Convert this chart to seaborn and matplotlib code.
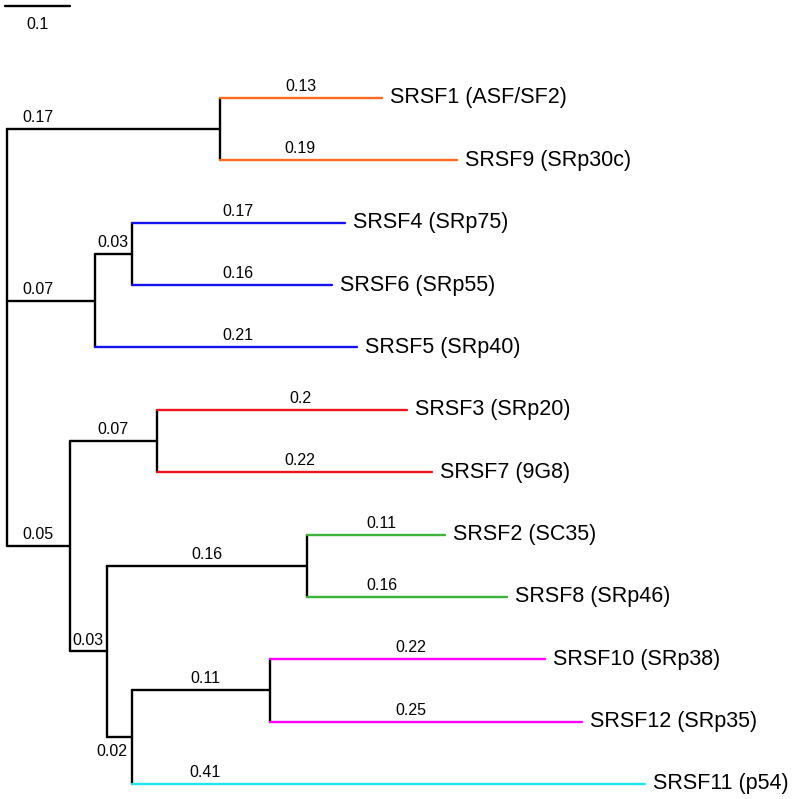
import numpy as np
import pandas as pd
import matplotlib
matplotlib.use("Agg")
import matplotlib.pyplot as plt
import seaborn as sns

# ---- data -------------------------------------------------------------
parents = ["root", "A", "A",
           "root", "B", "B1", "B1", "B",
           "root", "C", "C1", "C1", "C", "D", "D1", "D1", "D", "E", "E1", "E1", "E"]
children = ["A", "SRSF1", "SRSF9",
            "B", "B1", "SRSF4", "SRSF6", "SRSF5",
            "C", "C1", "SRSF3", "SRSF7", "D", "D1", "SRSF2", "SRSF8", "E", "E1", "SRSF10", "SRSF12", "SRSF11"]
lengths = [0.17, 0.13, 0.19,
           0.07, 0.03, 0.17, 0.16, 0.21,
           0.05, 0.07, 0.2, 0.22, 0.03, 0.16, 0.11, 0.16, 0.02, 0.11, 0.22, 0.25, 0.41]
length_labels = ["0.17", "0.13", "0.19",
                 "0.07", "0.03", "0.17", "0.16", "0.21",
                 "0.05", "0.07", "0.2", "0.22", "0.03", "0.16", "0.11", "0.16", "0.02", "0.11", "0.22", "0.25", "0.41"]

leaf_order = ["SRSF1", "SRSF9", "SRSF4", "SRSF6", "SRSF5", "SRSF3", "SRSF7",
              "SRSF2", "SRSF8", "SRSF10", "SRSF12", "SRSF11"]
leaf_names = ["SRSF1 (ASF/SF2)", "SRSF9 (SRp30c)", "SRSF4 (SRp75)", "SRSF6 (SRp55)",
              "SRSF5 (SRp40)", "SRSF3 (SRp20)", "SRSF7 (9G8)", "SRSF2 (SC35)",
              "SRSF8 (SRp46)", "SRSF10 (SRp38)", "SRSF12 (SRp35)", "SRSF11 (p54)"]
leaf_clades = ["orange", "orange", "blue", "blue", "blue", "red", "red",
               "green", "green", "magenta", "magenta", "cyan"]

palette = {"black": "#000000", "orange": "#FF6A1F", "blue": "#1414F0",
           "red": "#F0141E", "green": "#3CB43C", "magenta": "#FF00FF",
           "cyan": "#1EE6F0"}

# where along each branch its length label sits (style, fraction of branch)
label_frac = [0.146, 0.5, 0.339,
              0.354, 0.5, 0.5, 0.53, 0.547,
              0.5, 0.5, 0.572, 0.52, 0.5, 0.5, 0.538, 0.375, None, 0.53, 0.515, 0.453, 0.142]

scale_value = 0.1
scale_label = "0.1"

# ---- layout -----------------------------------------------------------
kids = {}
for p, c, l in zip(parents, children, lengths):
    kids.setdefault(p, []).append((c, l))

xpos = {"root": 0.0}
def set_x(n):
    for c, l in kids.get(n, []):
        xpos[c] = xpos[n] + l
        set_x(c)
set_x("root")

ypos = {name: i for i, name in enumerate(leaf_order)}
def set_y(n):
    if n in ypos:
        return ypos[n]
    ys = [set_y(c) for c, _ in kids[n]]
    ypos[n] = (ys[0] + ys[-1]) / 2
    return ypos[n]
set_y("root")

clade_of = dict(zip(leaf_order, leaf_clades))

rows = []
seg = 0
for p, c in zip(parents, children):
    col = clade_of.get(c, "black")
    rows += [(seg, xpos[p], ypos[c], col), (seg, xpos[c], ypos[c], col)]
    seg += 1
for n, ch in kids.items():
    ys = [ypos[c] for c, _ in ch]
    rows += [(seg, xpos[n], min(ys), "black"), (seg, xpos[n], max(ys), "black")]
    seg += 1
df = pd.DataFrame(rows, columns=["seg", "x", "y", "clade"])

# ---- draw -------------------------------------------------------------
sns.set_theme(style="white")
plt.rcParams['font.family'] = ['Liberation Sans', 'DejaVu Sans']
plt.rcParams['text.color'] = 'black'

W, H = 800, 799
fig = plt.figure(figsize=(W / 100, H / 100), dpi=100)
ax = fig.add_axes([0, 0, 1, 1])

px_per_unit = 1250.0
root_px = 7.0
leaf_top_px = 98.0
leaf_step_px = 62.36
ax.set_xlim(-root_px / px_per_unit, (W - root_px) / px_per_unit)
ax.set_ylim((H - leaf_top_px) / leaf_step_px, -leaf_top_px / leaf_step_px)

sns.lineplot(data=df, x="x", y="y", units="seg", estimator=None, hue="clade",
             palette=palette, sort=False, legend=False, linewidth=1.7, ax=ax)

# leaf labels
for name, lab in zip(leaf_order, leaf_names):
    ax.annotate(lab, (xpos[name], ypos[name]), xytext=(6, 0),
                textcoords="offset points", ha="left", va="center",
                fontsize=15.5, color="black")

# branch length labels
small = 11.5
for p, c, lab, fr in zip(parents, children, length_labels, label_frac):
    if fr is None:
        ax.annotate(lab, (xpos[c], ypos[c]), xytext=(-3, -5), textcoords="offset points",
                    ha="right", va="top", fontsize=small, color="black")
    else:
        lx = xpos[p] + fr * (xpos[c] - xpos[p])
        ax.annotate(lab, (lx, ypos[c]), xytext=(0, 5), textcoords="offset points",
                    ha="center", va="baseline", fontsize=small, color="black")

# scale bar
sb_y = (6 - leaf_top_px) / leaf_step_px
sb_x0 = -2 / px_per_unit
sb_len = scale_value * 0.52
sb = pd.DataFrame({"x": [sb_x0, sb_x0 + sb_len], "y": [sb_y, sb_y]})
sns.lineplot(data=sb, x="x", y="y", color="black", linewidth=1.7, ax=ax,
             sort=False, estimator=None)
ax.annotate(scale_label, (sb_x0 + sb_len / 2, sb_y), xytext=(0, -8),
            textcoords="offset points", ha="center", va="top", fontsize=small,
            color="black")

ax.set_axis_off()
fig.savefig("out.png", dpi=100)
